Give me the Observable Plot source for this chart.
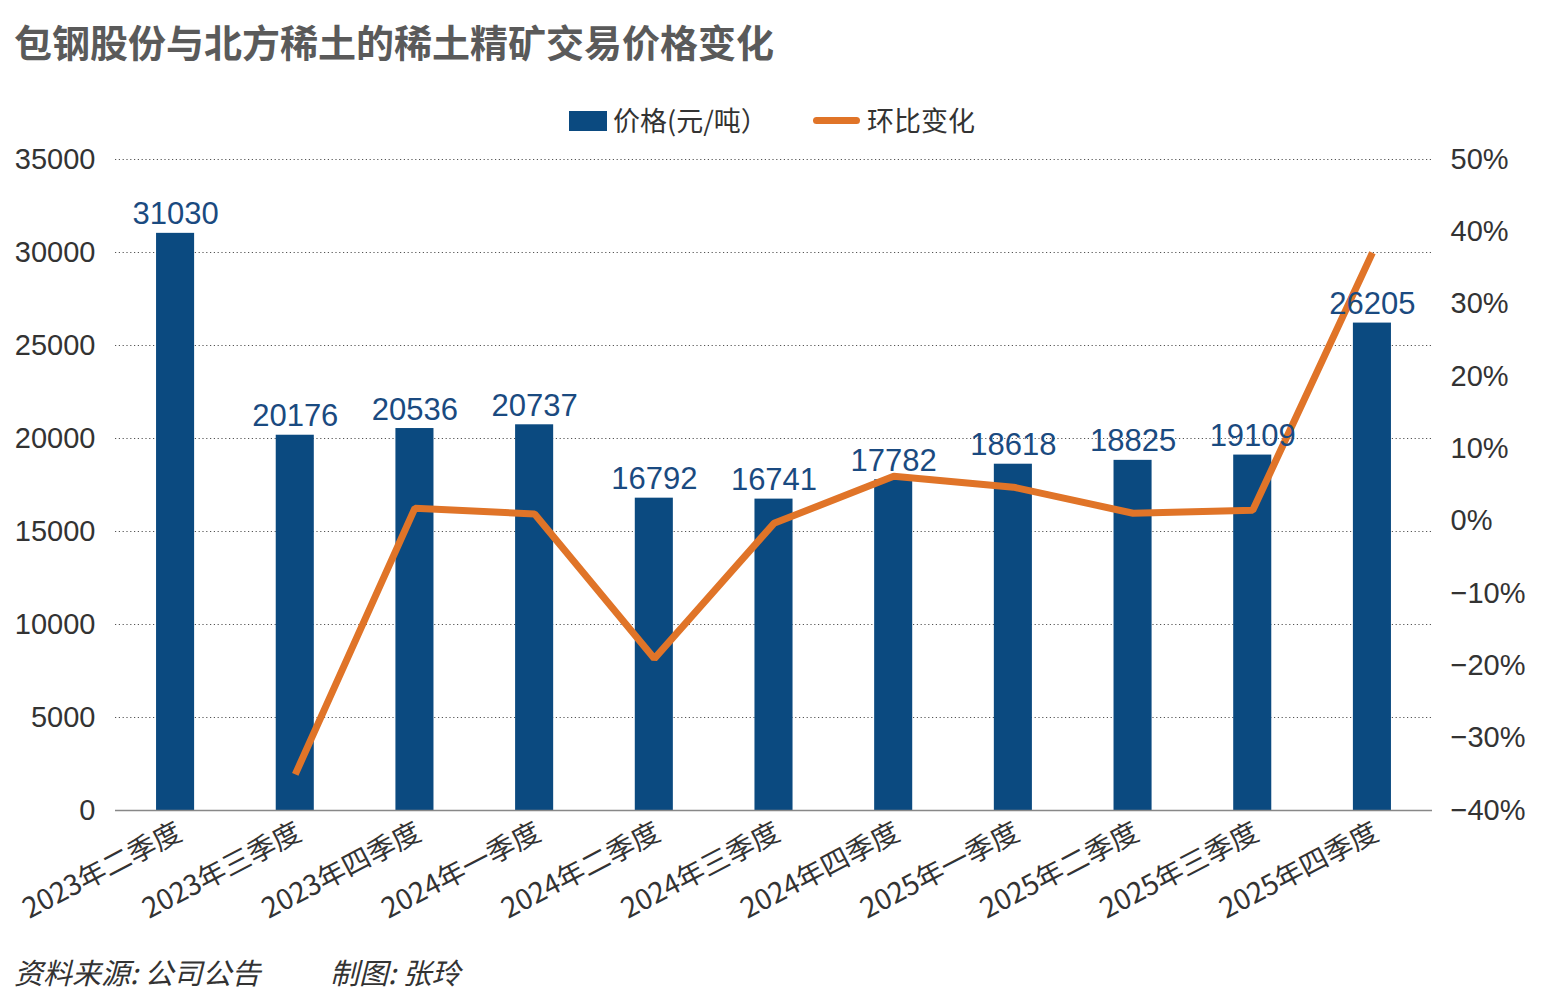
<!DOCTYPE html>
<html>
<head>
<meta charset="utf-8">
<script src="https://cdn.jsdelivr.net/npm/d3@7"></script>
<script src="https://cdn.jsdelivr.net/npm/@observablehq/plot@0.6"></script>
<style>
  html, body { margin: 0; padding: 0; background: #fff; }
  body { width: 1545px; height: 1005px; position: relative; overflow: hidden;
         font-family: "Liberation Sans", "Noto Sans CJK SC", sans-serif; }
  #title { position: absolute; left: 14px; top: 13px; font-size: 38px; font-weight: bold;
           color: #5a5a5a; font-family: "Noto Sans CJK SC", sans-serif; letter-spacing: 0px; }
  .lg { position: absolute; font-family: "Noto Sans CJK SC", sans-serif; font-size: 27px; color: #333; line-height: 40px; top: 100px; }
  .sw-bar { position: absolute; left: 569px; top: 111px; width: 38px; height: 20px; background: #0b4a80; }
  .sw-line { position: absolute; left: 813px; top: 117px; width: 47px; height: 7px; border-radius: 4px; background: #e07428; }
  #chart { position: absolute; left: 0; top: 140px; }
  .ft { position: absolute; top: 950px; font-size: 29px; color: #333;
        font-family: "Noto Sans CJK SC", sans-serif; font-style: italic; white-space: pre; }
</style>
</head>
<body>
<div id="title">包钢股份与北方稀土的稀土精矿交易价格变化</div>
<div class="sw-bar"></div><div class="lg" style="left:613px">价格(元/吨）</div>
<div class="sw-line"></div><div class="lg" style="left:867px">环比变化</div>
<div id="chart"></div>
<div class="ft" style="left:14px">资料来源: 公司公告</div>
<div class="ft" style="left:330px">制图: 张玲</div>
<script>
const quarters = ["2023年二季度","2023年三季度","2023年四季度","2024年一季度","2024年二季度","2024年三季度","2024年四季度","2025年一季度","2025年二季度","2025年三季度","2025年四季度"];
const prices = [31030, 20176, 20536, 20737, 16792, 16741, 17782, 18618, 18825, 19109, 26205];
const changes = [null, -35.0, 1.8, 1.0, -19.0, -0.3, 6.2, 4.7, 1.1, 1.5, 37.1];
const leftTicks = [0, 5000, 10000, 15000, 20000, 25000, 30000, 35000];
const rightTicks = [-40, -30, -20, -10, 0, 10, 20, 30, 40, 50];

const yMax = 35000, pMin = -40, pMax = 50;
const toY = p => (p - pMin) / (pMax - pMin) * yMax;

const bars = quarters.map((q, i) => ({q, price: prices[i]}));
const line = quarters.map((q, i) => ({q, pct: changes[i]})).filter(d => d.pct !== null);

const plot = Plot.plot({
  width: 1545,
  height: 800,
  marginTop: 19,
  marginBottom: 130,
  marginLeft: 115,
  marginRight: 113,
  style: {fontFamily: "'Liberation Sans', 'Noto Sans CJK SC', sans-serif", color: "#333", background: "#fff"},
  x: {domain: quarters, paddingInner: 0.682, paddingOuter: 0.343, round: false, label: null},
  y: {domain: [0, yMax], label: null},
  marks: [
    Plot.ruleY(leftTicks.filter(t => t > 0), {stroke: "#555", strokeDasharray: "1.2,2.6", strokeWidth: 1.2}),
    Plot.barY(bars, {x: "q", y: "price", fill: "#0b4a80"}),
    Plot.ruleY([0], {stroke: "#888", strokeWidth: 1.5}),
    Plot.line(line, {x: "q", y: d => toY(d.pct), stroke: "#e07428", strokeWidth: 7, strokeLinejoin: "miter", strokeLinecap: "butt"}),
    Plot.text(bars, {x: "q", y: "price", text: d => String(d.price), dy: -9, lineAnchor: "bottom",
      fill: "#1a4a80", fontSize: 31, fontFamily: "'Liberation Sans', sans-serif"}),
    Plot.axisY({ticks: leftTicks, tickSize: 0, tickPadding: 20, fontSize: 29, tickFormat: d => String(d), label: null, fill: "#333"}),
    Plot.axisY({anchor: "right", ticks: rightTicks.map(toY), tickSize: 0, tickPadding: 18, fontSize: 29,
      tickFormat: v => { const p = Math.round(v / yMax * (pMax - pMin) + pMin); return (p < 0 ? "−" + (-p) : p) + "%"; },
      label: null, fill: "#333"}),
    Plot.axisX({tickSize: 0, tickRotate: -27.5, tickPadding: 4, fontSize: 28, label: null, dx: 4, dy: 16,
      fontFamily: "'Noto Sans CJK SC', sans-serif", fill: "#333"})
  ]
});
document.getElementById("chart").appendChild(plot);
</script>
</body>
</html>
